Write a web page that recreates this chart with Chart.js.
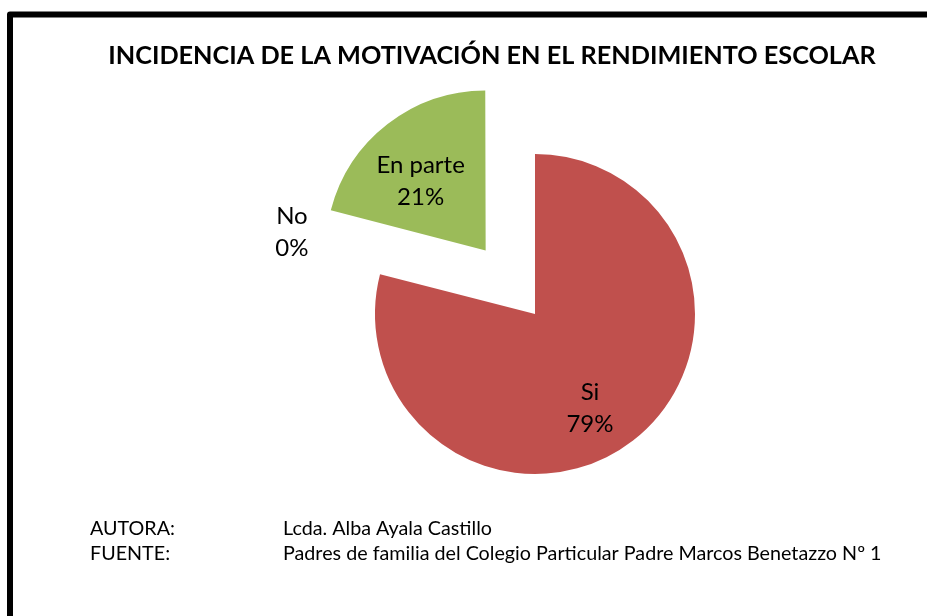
<!DOCTYPE html>
<html>
<head>
<meta charset="utf-8">
<script src="https://cdn.jsdelivr.net/npm/chart.js@4.4.1/dist/chart.umd.min.js"></script>
<style>
  html, body { margin: 0; padding: 0; background: #fff; }
  #wrap { width: 927px; height: 616px; }
</style>
</head>
<body>
<div id="wrap"><canvas id="pieChart" width="927" height="616"></canvas></div>
<script>
// datos del gráfico
const categories = ['Si', 'No', 'En parte'];
const percentages = [79, 0, 21];
const sliceColors = ['#C0504D', '#4F81BD', '#9BBB59'];
const chartTitle = 'INCIDENCIA DE LA MOTIVACIÓN EN EL RENDIMIENTO ESCOLAR';
const footerLabels = ['AUTORA:', 'FUENTE:'];
const footerValues = ['Lcda. Alba Ayala Castillo', 'Padres de familia del Colegio Particular Padre Marcos Benetazzo Nº 1'];

const FONT = 'Lato, "Open Sans", sans-serif';

// font size so that text spans the given width
function fitSize(ctx, text, weight, width) {
    ctx.font = weight + ' 100px ' + FONT;
    return 100 * width / ctx.measureText(text).width;
}

// frame, title and footer notes
const decorPlugin = {
    id: 'decor',
    afterDraw(chart) {
        const ctx = chart.ctx;
        ctx.save();
        ctx.strokeStyle = '#000';
        ctx.lineWidth = 6;
        ctx.lineJoin = 'round';
        ctx.strokeRect(10, 14.5, 1000, 1000);

        ctx.fillStyle = '#000';
        ctx.textAlign = 'center';
        ctx.textBaseline = 'alphabetic';
        const ts = fitSize(ctx, chartTitle, 'bold', 768);
        ctx.font = 'bold ' + ts + 'px ' + FONT;
        ctx.fillText(chartTitle, 492, 64);

        const fs = fitSize(ctx, footerValues[1], 'normal', 599);
        ctx.font = fs + 'px ' + FONT;
        ctx.textAlign = 'left';
        footerLabels.forEach((lbl, i) => {
            const y = 534.5 + i * 25;
            ctx.fillText(lbl, 90, y);
            ctx.fillText(footerValues[i], 283, y);
        });
        ctx.restore();
    }
};

// keep exploded slices at the same radius as the others
const offsetFixPlugin = {
    id: 'offsetFix',
    afterDatasetsUpdate(chart) {
        chart.getDatasetMeta(0).data.forEach(arc => {
            const off = (arc.options.offset || 0) / 4;
            const circ = arc.endAngle - arc.startAngle;
            const fix = 1 - Math.sin(Math.min(Math.PI, circ));
            arc.outerRadius -= off * fix;
        });
    }
};

// "categoria\nporcentaje" labels
const sliceLabelPlugin = {
    id: 'sliceLabels',
    afterDatasetsDraw(chart, args, opts) {
        const ctx = chart.ctx;
        const meta = chart.getDatasetMeta(0);
        const R = meta.controller.outerRadius;
        ctx.save();
        ctx.fillStyle = '#000';
        ctx.font = opts.size + 'px ' + FONT;
        ctx.textAlign = 'center';
        ctx.textBaseline = 'middle';
        meta.data.forEach((arc, i) => {
            const half = (arc.startAngle + arc.endAngle) / 2;
            const off = (arc.options.offset || 0) / 4;
            const cx = arc.x + Math.cos(half) * off;
            const cy = arc.y + Math.sin(half) * off;
            const p = opts.place[i];
            const a = half + p.turn * Math.PI / 180;
            const x = cx + Math.cos(a) * R * p.r;
            const y = cy + Math.sin(a) * R * p.r;
            const lines = [categories[i], percentages[i] + '%'];
            lines.forEach((t, k) => {
                ctx.fillText(t, x, y + (k - 0.5) * opts.lineHeight);
            });
        });
        ctx.restore();
    }
};

const ctx = document.getElementById('pieChart').getContext('2d');
new Chart(ctx, {
    type: 'pie',
    data: {
        labels: categories,
        datasets: [{
            data: percentages,
            backgroundColor: sliceColors,
            borderWidth: 0,
            offset: [0, 0, 322]
        }]
    },
    options: {
        responsive: false,
        devicePixelRatio: 1,
        animation: false,
        events: [],
        radius: 160,
        layout: {
            padding: { left: 143, right: 0, top: 12, bottom: 0 }
        },
        plugins: {
            legend: { display: false },
            title: { display: false },
            tooltip: { enabled: false },
            sliceLabels: {
                size: 24,
                lineHeight: 32,
                place: [
                    { r: 0.683, turn: 7.6 },
                    { r: 1.603, turn: 4.2 },
                    { r: 0.595, turn: -5.3 }
                ]
            }
        }
    },
    plugins: [offsetFixPlugin, sliceLabelPlugin, decorPlugin]
});
</script>
</body>
</html>
